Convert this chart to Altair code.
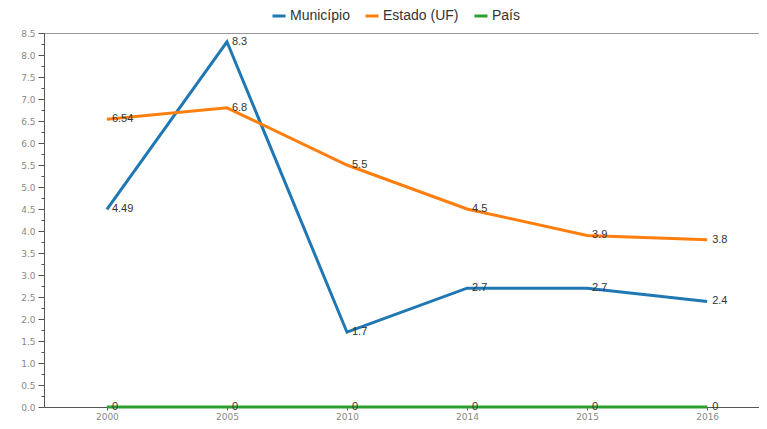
import altair as alt
import pandas as pd

years = ["2000", "2005", "2010", "2014", "2015", "2016"]
series_names = ["Município", "Estado (UF)", "País"]
municipio = [4.49, 8.3, 1.7, 2.7, 2.7, 2.4]
estado = [6.54, 6.8, 5.5, 4.5, 3.9, 3.8]
pais = [0, 0, 0, 0, 0, 0]
colors = ["#1f77b4", "#ff7f0e", "#2ca02c"]
y_ticks = [i * 0.25 for i in range(35)]

rows = []
for name, vals in zip(series_names, [municipio, estado, pais]):
    for yr, v in zip(years, vals):
        rows.append({"ano": yr, "serie": name, "valor": v, "rotulo": f"{v:g}"})
df = pd.DataFrame(rows)

x_enc = alt.X(
    "ano:O",
    sort=years,
    scale=alt.Scale(type="point", padding=0.478, align=0.548),
    axis=alt.Axis(
        title=None, labelAngle=0, labelFontSize=9, labelColor="#888",
        labelFont="DejaVu Sans", tickSize=3, tickColor="#555",
        domainColor="#555", labelPadding=2,
    ),
)
y_enc = alt.Y(
    "valor:Q",
    scale=alt.Scale(domain=[0, 8.5], nice=False),
    axis=alt.Axis(
        title=None, values=y_ticks, grid=False,
        labelExpr="datum.value % 0.5 == 0 ? format(datum.value, '.1f') : ''",
        labelFontSize=9, labelColor="#888", labelFont="DejaVu Sans",
        tickSize={"condition": {"test": "datum.value % 0.5 != 0", "value": 3}, "value": 6},
        tickColor="#555", domainColor="#555", labelPadding=3,
    ),
)
color_enc = alt.Color(
    "serie:N",
    scale=alt.Scale(domain=series_names, range=colors),
    legend=alt.Legend(
        title=None, orient="none", direction="horizontal",
        legendX=227, legendY=-25,
        symbolType="stroke", symbolStrokeWidth=3, symbolSize=169,
        labelFontSize=14, labelColor="#333", labelFont="Liberation Sans",
        columnPadding=9, labelOffset=3,
    ),
)

lines = alt.Chart(df).mark_line(strokeWidth=3).encode(
    x=x_enc, y=y_enc, color=color_enc, order=alt.value(0)
)
labels = alt.Chart(df).mark_text(
    align="left", baseline="middle", dx=5, dy=0, fontSize=11,
    color="#333", font="Liberation Sans",
).encode(x=x_enc, y=y_enc, text="rotulo:N")

chart = (
    alt.layer(lines, labels)
    .properties(
        width=751, height=413,
        autosize=alt.AutoSizeParams(type="fit", contains="padding"),
        padding={"left": 12, "top": 21, "right": 0, "bottom": 0},
    )
    .configure_view(stroke="#999", strokeWidth=1)
)

chart.save("out.html", embed_options={"renderer": "svg", "actions": False})
